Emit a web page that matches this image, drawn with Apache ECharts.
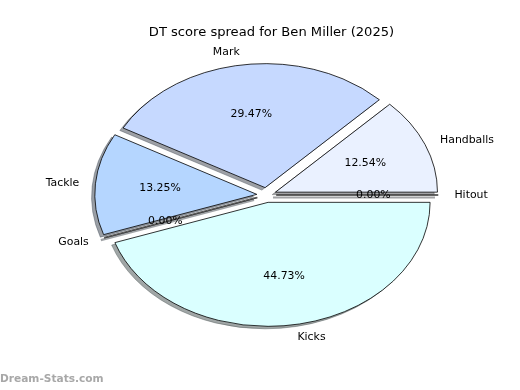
<!DOCTYPE html>
<html><head><meta charset="utf-8">
<script src="https://cdn.jsdelivr.net/npm/echarts@6/dist/echarts.min.js"></script>
<style>html,body{margin:0;padding:0;background:#fff}#c{width:520px;height:390px}</style>
</head><body><div id="c"></div>
<script>
const titleText = 'DT score spread for Ben Miller (2025)';
const categories = ['Handballs', 'Mark', 'Tackle', 'Goals', 'Kicks', 'Hitout'];
const values = [12.54, 29.47, 13.25, 0.00, 44.73, 0.00];
const colors = ['#eaf1ff', '#c6d9ff', '#b5d6ff', '#dceeff', '#daffff', '#eaf1ff'];
const watermark = 'Dream-Stats.com';

const CX = 266.5, CY = 195, RX = 162, RY = 124, EXPLODE = 0.06;
const FONT = '"DejaVu Sans", sans-serif';
const total = values.reduce((a, b) => a + b, 0);
const cum = [];
values.reduce((a, b, i) => { cum[i] = a; return a + b; }, 0);

function hexToRgb(h) {
  const n = parseInt(h.slice(1), 16);
  return [(n >> 16) & 255, (n >> 8) & 255, n & 255];
}

function renderItem(params, api) {
  const i = params.dataIndex;
  const v = api.value(0);
  const t1 = 2 * Math.PI * cum[i] / total;
  const t2 = 2 * Math.PI * (cum[i] + v) / total;
  const mid = (t1 + t2) / 2;
  const ox = CX + EXPLODE * RX * Math.cos(mid);
  const oy = CY - EXPLODE * RY * Math.sin(mid);
  const rgb = hexToRgb(colors[i]);
  const shadowCol = 'rgba(' + rgb.map(c => Math.round(c * 0.3)).join(',') + ',0.5)';
  const sdx = -0.02 * RX, sdy = 0.02 * RY;
  const children = [];
  const mkSector = (x, y, fill, stroke, z2) => ({
    type: 'sector', x: x, y: y, scaleY: RY / RX, z2: z2, silent: true,
    shape: { cx: 0, cy: 0, r0: 0, r: RX, startAngle: -t2, endAngle: -t1, clockwise: true },
    style: { fill: fill, stroke: stroke, lineWidth: 0.9, strokeNoScale: true }
  });
  if (v > 0) {
    children.push(mkSector(ox + sdx, oy + sdy, shadowCol, shadowCol, 1));
    children.push(mkSector(ox, oy, colors[i], '#000', 5));
  } else {
    const ex = RX * Math.cos(t1), ey = -RY * Math.sin(t1);
    children.push({ type: 'line', z2: 1, silent: true,
      shape: { x1: ox + sdx, y1: oy + sdy, x2: ox + sdx + ex, y2: oy + sdy + ey },
      style: { stroke: shadowCol, lineWidth: 2.2 } });
    children.push({ type: 'line', z2: 5, silent: true,
      shape: { x1: ox, y1: oy, x2: ox + ex, y2: oy + ey },
      style: { stroke: '#000', lineWidth: 1.6 } });
    children.push({ type: 'line', z2: 6, silent: true,
      shape: { x1: ox, y1: oy, x2: ox + ex, y2: oy + ey },
      style: { stroke: '#fff', lineWidth: 0.4 } });
  }
  const lx = ox + 1.1 * RX * Math.cos(mid), ly = oy - 1.1 * RY * Math.sin(mid);
  const lalign = Math.cos(mid) > 0 ? 'left' : 'right';
  children.push({ type: 'text', z2: 10, silent: true,
    style: { text: categories[i], x: lx, y: ly, fill: '#000', font: '10.9px ' + FONT,
      align: lalign, verticalAlign: 'middle', textAlign: lalign, textVerticalAlign: 'middle' } });
  const px = ox + 0.6 * RX * Math.cos(mid), py = oy - 0.6 * RY * Math.sin(mid);
  children.push({ type: 'text', z2: 10, silent: true,
    style: { text: (100 * v / total).toFixed(2) + '%', x: px, y: py, fill: '#000', font: '10.9px ' + FONT,
      align: 'center', verticalAlign: 'middle', textAlign: 'center', textVerticalAlign: 'middle' } });
  return { type: 'group', children: children };
}

const chart = echarts.init(document.getElementById('c'), null, { renderer: 'canvas' });
chart.setOption({
  animation: false,
  backgroundColor: '#fff',
  title: {
    text: titleText, left: CX, top: 21, textAlign: 'center',
    textStyle: { fontFamily: FONT, fontSize: 13.1, fontWeight: 'normal', color: '#000' }
  },
  graphic: [{
    type: 'text', left: 0, top: 374,
    style: { text: watermark, fill: '#a8a8a8', font: 'bold 10.6px ' + FONT }
  }],
  series: [{
    type: 'custom',
    coordinateSystem: 'none',
    renderItem: renderItem,
    data: values.map(v => [v])
  }]
});
</script></body></html>
